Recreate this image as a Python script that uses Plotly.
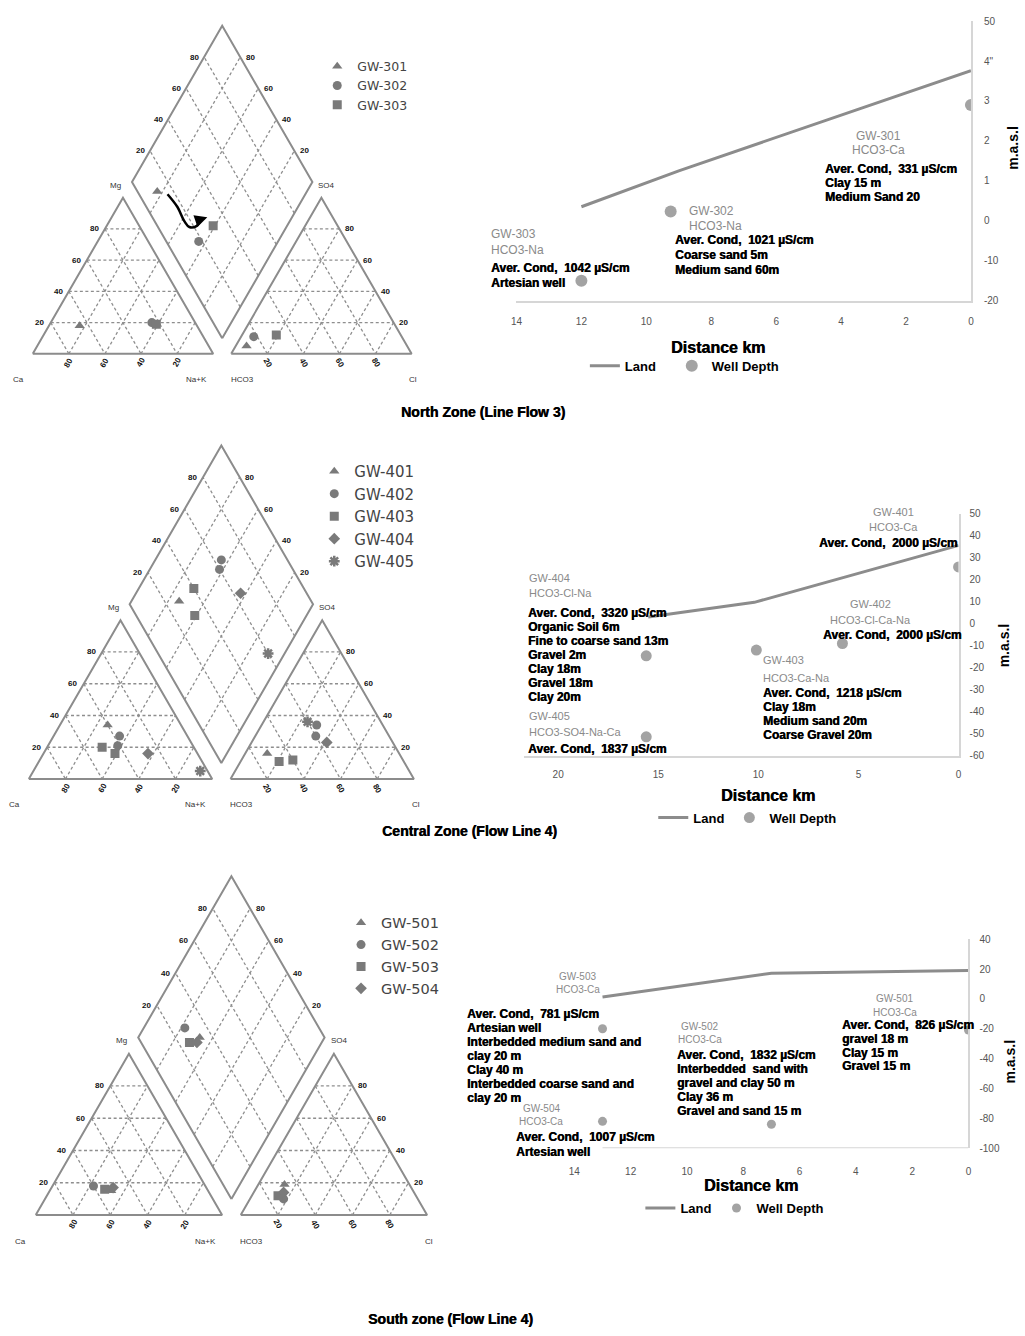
import math
import plotly.graph_objects as go

W, H = 1025, 1336
H3 = math.sqrt(3) / 2
GAP = 0.1

# ---------------- Piper data (meq %) ----------------
north_well = ["GW-301", "GW-302", "GW-303"]
north_ca = [65, 24, 22]
north_mg = [18, 20, 19]
north_na = [17, 56, 59]
north_hco3 = [89, 82, 69]
north_so4 = [5, 11, 12]
north_cl = [6, 7, 19]
# evolution path drawn in the diamond (Ca+Mg, SO4+Cl fractions)
north_path_s = [0.764, 0.668, 0.583, 0.538, 0.502, 0.497, 0.47]
north_path_a = [0.158, 0.172, 0.165, 0.174, 0.216, 0.265, 0.305]

central_well = ["GW-401", "GW-402", "GW-402", "GW-403", "GW-403", "GW-404", "GW-405"]
central_ca = [40, 41, 37, 50, 45, 27, 4]
central_mg = [34, 21, 27, 20, 16, 16, 5]
central_na = [26, 38, 36, 30, 39, 57, 91]
central_hco3 = [72, 40, 36, 60, 68, 36, 40]
central_so4 = [16, 27, 34, 12, 11, 23, 36]
central_cl = [12, 33, 30, 28, 21, 41, 24]

south_well = ["GW-501", "GW-502", "GW-503", "GW-504"]
south_ca = [52, 60, 55, 50]
south_mg = [15, 18, 16, 17]
south_na = [33, 22, 29, 33]
south_hco3 = [67, 72, 74, 70]
south_so4 = [19, 10, 12, 14]
south_cl = [14, 18, 14, 16]

piper_ticks = [20, 40, 60, 80]

# ---------------- cross-section data ----------------
north_land_km = [12, 9, 0]
north_land_m = [3.5, 12.5, 37.6]
north_wells = ["GW-301", "GW-302", "GW-303"]
north_well_km = [0, 9.25, 12]
north_well_m = [29, 2.3, -15]
north_types = ["HCO3-Ca", "HCO3-Na", "HCO3-Na"]
north_notes = [
    ["Aver. Cond,  331 µS/cm", "Clay 15 m", "Medium Sand 20"],
    ["Aver. Cond,  1021 µS/cm", "Coarse sand 5m", "Medium sand 60m"],
    ["Aver. Cond,  1042 µS/cm", "Artesian well"],
]
north_xticks = [14, 12, 10, 8, 6, 4, 2, 0]
north_yticks = [50, 40, 30, 20, 10, 0, -10, -20]
north_yticktext = ["50", "4\"", "3", "2", "1", "0", "-10", "-20"]

central_land_km = [15.5, 10.2, 0]
central_land_m = [3, 9.7, 35.6]
central_wells = ["GW-401", "GW-402", "GW-403", "GW-404", "GW-405"]
central_well_km = [0, 5.8, 10.1, 15.6, 15.6]
central_well_m = [25.8, -9, -12, -14.6, -51.4]
central_types = ["HCO3-Ca", "HCO3-Cl-Ca-Na", "HCO3-Ca-Na", "HCO3-Cl-Na", "HCO3-SO4-Na-Ca"]
central_notes = [
    ["Aver. Cond,  2000 µS/cm"],
    ["Aver. Cond,  2000 µS/cm"],
    ["Aver. Cond,  1218 µS/cm", "Clay 18m", "Medium sand 20m", "Coarse Gravel 20m"],
    ["Aver. Cond,  3320 µS/cm", "Organic Soil 6m", "Fine to coarse sand 13m",
     "Gravel 2m", "Clay 18m", "Gravel 18m", "Clay 20m"],
    ["Aver. Cond,  1837 µS/cm"],
]
central_xticks = [20, 15, 10, 5, 0]
central_yticks = [50, 40, 30, 20, 10, 0, -10, -20, -30, -40, -50, -60]

south_land_km = [13, 7, 0]
south_land_m = [1.3, 17.2, 19]
south_wells = ["GW-501", "GW-502", "GW-503", "GW-504"]
south_well_km = [0, 7, 13, 13]
south_well_m = [-20.8, -83.9, -20, -82]
south_types = ["HCO3-Ca", "HCO3-Ca", "HCO3-Ca", "HCO3-Ca"]
south_notes = [
    ["Aver. Cond,  826 µS/cm", "gravel 18 m", "Clay 15 m", "Gravel 15 m"],
    ["Aver. Cond,  1832 µS/cm", "Interbedded  sand with", "gravel and clay 50 m",
     "Clay 36 m", "Gravel and sand 15 m"],
    ["Aver. Cond,  781 µS/cm", "Artesian well", "Interbedded medium sand and",
     "clay 20 m", "Clay 40 m", "Interbedded coarse sand and", "clay 20 m"],
    ["Aver. Cond,  1007 µS/cm", "Artesian well"],
]
south_xticks = [14, 12, 10, 8, 6, 4, 2, 0]
south_yticks = [40, 20, 0, -20, -40, -60, -80, -100]

zone_titles = ["North Zone (Line Flow 3)", "Central Zone (Flow Line 4)", "South zone (Flow Line 4)"]

# ---------------- helpers ----------------
GREY = "#8c8c8c"
GRID = "#8e8e8e"
MARK = "#7a7a7a"
FONT = "Liberation Sans"
NOTE_SHADOW = "0.5px 0px 0px #000"
NBSP = "\u00a0"


def dom_x(p0, p1):
    return [p0 / W, p1 / W]


def dom_y(top, bottom):
    return [1 - bottom / H, 1 - top / H]


def px(xp, yp):
    return xp / W, 1 - yp / H


def cation_xy(ca, mg, na):
    t = ca + mg + na
    return (na + mg / 2) / t, mg / t * H3


def anion_xy(hco3, so4, cl):
    t = hco3 + so4 + cl
    return 1 + GAP + (cl + so4 / 2) / t, so4 / t * H3


def diamond_sa(s, a):
    return 1 + GAP / 2 - s / 2 + a / 2, GAP * H3 + H3 * (s + a)


def diamond_xy(ca, mg, na, hco3, so4, cl):
    return diamond_sa((ca + mg) / (ca + mg + na), (so4 + cl) / (hco3 + so4 + cl))


fig = go.Figure()
annotations = []
shapes = []
layout_axes = {}

SYMBOLS = ["triangle-up", "circle", "square", "diamond", "asterisk-open"]
XR = (-0.12, 2.28)
YR = (-0.2, 1.9)


def piper(idx, ox, oy, unit, wells, ca, mg, na, hco3, so4, cl, legend_name, legend_pos, legend_font):
    xa = "x" if idx == 1 else f"x{idx}"
    ya = "y" if idx == 1 else f"y{idx}"
    layout_axes["xaxis" if idx == 1 else f"xaxis{idx}"] = dict(
        domain=dom_x(ox + XR[0] * unit, ox + XR[1] * unit), range=list(XR),
        visible=False, anchor=ya, fixedrange=True)
    layout_axes["yaxis" if idx == 1 else f"yaxis{idx}"] = dict(
        domain=dom_y(oy - YR[1] * unit, oy - YR[0] * unit), range=list(YR),
        visible=False, anchor=xa, fixedrange=True)

    # dashed grid lines
    gx, gy = [], []
    for f in [t / 100 for t in piper_ticks]:
        for fn in (cation_xy, anion_xy):
            for p, q in (((1 - f, f, 0), (0, f, 1 - f)),
                         ((1 - f, 0, f), (0, 1 - f, f)),
                         ((f, 1 - f, 0), (f, 0, 1 - f))):
                a, b = fn(*p), fn(*q)
                gx += [a[0], b[0], None]
                gy += [a[1], b[1], None]
        for p, q in (((f, 0), (f, 1)), ((0, f), (1, f))):
            a, b = diamond_sa(*p), diamond_sa(*q)
            gx += [a[0], b[0], None]
            gy += [a[1], b[1], None]
    fig.add_trace(go.Scatter(x=gx, y=gy, mode="lines", xaxis=xa, yaxis=ya,
                             line=dict(color=GRID, width=1.3, dash="3px,2.5px"),
                             hoverinfo="skip", showlegend=False))

    # outlines
    bx, by = [], []
    for fn in (cation_xy, anion_xy):
        pts = [fn(1, 0, 0), fn(0, 1, 0), fn(0, 0, 1), fn(1, 0, 0)]
        bx += [p[0] for p in pts] + [None]
        by += [p[1] for p in pts] + [None]
    pts = [diamond_sa(0, 0), diamond_sa(1, 0), diamond_sa(1, 1), diamond_sa(0, 1), diamond_sa(0, 0)]
    bx += [p[0] for p in pts]
    by += [p[1] for p in pts]
    fig.add_trace(go.Scatter(x=bx, y=by, mode="lines", xaxis=xa, yaxis=ya,
                             line=dict(color=GREY, width=2), hoverinfo="skip", showlegend=False))

    # samples
    names = list(dict.fromkeys(wells))
    for k, name in enumerate(names):
        sx, sy = [], []
        for i, w in enumerate(wells):
            if w != name:
                continue
            for p in (cation_xy(ca[i], mg[i], na[i]), anion_xy(hco3[i], so4[i], cl[i]),
                      diamond_xy(ca[i], mg[i], na[i], hco3[i], so4[i], cl[i])):
                sx.append(p[0])
                sy.append(p[1])
        sym = SYMBOLS[k]
        marker = dict(color=MARK, size=9, symbol=sym)
        if sym == "asterisk-open":
            marker["line"] = dict(color=MARK, width=2.5)
        fig.add_trace(go.Scatter(x=sx, y=sy, mode="markers", name=name, xaxis=xa, yaxis=ya,
                                 marker=marker, legend=legend_name))
    lx, ly = px(*legend_pos)
    layout_axes[legend_name] = dict(
        x=lx, y=ly, xanchor="left", yanchor="top",
        bgcolor="rgba(255,255,255,0)", font=dict(family="DejaVu Sans", size=legend_font, color="#444"),
        tracegroupgap=0, itemwidth=30)

    # apex labels
    lab = dict(xref=xa, yref=ya, showarrow=False, xanchor="center", yanchor="middle",
               font=dict(family=FONT, size=8, color="#333"))
    for text, (tx, ty) in (("Ca", (-0.08, -0.14)), ("Na+K", (0.91, -0.14)), ("HCO3", (1.16, -0.14)),
                           ("Cl", (2.11, -0.14)), ("Mg", (0.46, 0.935)), ("SO4", (1.63, 0.935))):
        annotations.append(dict(lab, x=tx, y=ty, text=text))

    # scale labels
    tk = dict(xref=xa, yref=ya, showarrow=False, xanchor="center", yanchor="middle",
              font=dict(family=FONT, size=8, color="#111"))
    for t in piper_ticks:
        f = t / 100
        p = cation_xy(1 - f, f, 0)
        annotations.append(dict(tk, x=p[0] - 0.06, y=p[1], text=f"<b>{t}</b>"))
        p = cation_xy(f, 0, 1 - f)
        annotations.append(dict(tk, x=p[0], y=-0.05, text=f"<b>{t}</b>", textangle=-60))
        p = anion_xy(0, f, 1 - f)
        annotations.append(dict(tk, x=p[0] + 0.055, y=p[1], text=f"<b>{t}</b>"))
        p = anion_xy(1 - f, 0, f)
        annotations.append(dict(tk, x=p[0], y=-0.05, text=f"<b>{t}</b>", textangle=60))
        p = diamond_sa(1, f)
        annotations.append(dict(tk, x=p[0] - 0.055, y=p[1], text=f"<b>{t}</b>"))
        p = diamond_sa(f, 1)
        annotations.append(dict(tk, x=p[0] + 0.055, y=p[1], text=f"<b>{t}</b>"))
    return xa, ya


# ---------------- Piper diagrams ----------------
xa1, ya1 = piper(1, 27, 351, 182, north_well, north_ca, north_mg, north_na,
                 north_hco3, north_so4, north_cl, "legend", (314, 46), 12.5)
piper(2, 23, 780, 185, central_well, central_ca, central_mg, central_na,
      central_hco3, central_so4, central_cl, "legend2", (311, 453), 15)
piper(3, 30, 1220, 188, south_well, south_ca, south_mg, south_na,
      south_hco3, south_so4, south_cl, "legend3", (338, 909), 14.5)

# flow path arrow in the northern diamond
path = [diamond_sa(s, a) for s, a in zip(north_path_s, north_path_a)]
fig.add_trace(go.Scatter(x=[p[0] for p in path[:-1]], y=[p[1] for p in path[:-1]],
                         mode="lines", line=dict(color="black", width=2.5, shape="spline"),
                         xaxis=xa1, yaxis=ya1, hoverinfo="skip", showlegend=False))
annotations.append(dict(xref=xa1, yref=ya1, axref=xa1, ayref=ya1,
                        x=path[-1][0], y=path[-1][1], ax=path[-2][0], ay=path[-2][1],
                        showarrow=True, arrowhead=2, arrowsize=1, arrowwidth=2.5,
                        arrowcolor="black", text=""))


# ---------------- cross sections ----------------
def section(idx, x_px, y_px, xrange, yrange, land_km, land_m, well_km, well_m,
            xticks, yticks, yticktext, legend_name, legend_pos, land_pad, marker_size,
            x_standoff, y_standoff, draw_base=False):
    xa, ya = f"x{idx}", f"y{idx}"
    layout_axes[f"xaxis{idx}"] = dict(
        domain=dom_x(*x_px), range=list(xrange), anchor=ya, showgrid=False, zeroline=False,
        showline=not draw_base, linecolor="#d6d6d6", linewidth=2, ticks="",
        tickvals=xticks, tickfont=dict(family=FONT, size=10, color="#555"),
        ticklabelstandoff=x_standoff, fixedrange=True)
    layout_axes[f"yaxis{idx}"] = dict(
        domain=dom_y(*y_px), range=list(yrange), anchor=xa, side="right", showgrid=False,
        zeroline=False, showline=True, linecolor="#d6d6d6", linewidth=2, ticks="",
        tickvals=yticks, ticktext=yticktext if yticktext else [str(v) for v in yticks],
        tickfont=dict(family=FONT, size=10, color="#555"),
        ticklabelstandoff=y_standoff, fixedrange=True)
    if draw_base:
        shapes.append(dict(type="line", xref=xa, yref=ya, x0=max(land_km), x1=0,
                           y0=yrange[0], y1=yrange[0], line=dict(color="#d6d6d6", width=2)))
    fig.add_trace(go.Scatter(x=land_km, y=land_m, mode="lines", name="<b>Land</b>" + NBSP * land_pad,
                             line=dict(color=GREY, width=3), xaxis=xa, yaxis=ya,
                             legend=legend_name))
    fig.add_trace(go.Scatter(x=well_km, y=well_m, mode="markers", name="<b>Well Depth</b>",
                             marker=dict(color="#a3a3a3", size=marker_size), xaxis=xa, yaxis=ya,
                             legend=legend_name))
    lx, ly = px(*legend_pos)
    layout_axes[legend_name] = dict(
        orientation="h", x=lx, y=ly, xanchor="left", yanchor="middle",
        bgcolor="rgba(255,255,255,0)",
        font=dict(family=FONT, size=13, color="black"))

    # maps section coordinates to page pixels (used to place the well notes)
    def to_px(xv, yv):
        xp = x_px[0] + (xv - xrange[0]) / (xrange[1] - xrange[0]) * (x_px[1] - x_px[0])
        yp = y_px[1] - (yv - yrange[0]) / (yrange[1] - yrange[0]) * (y_px[1] - y_px[0])
        return xp, yp
    return to_px


def notes(to_px, names, types, note_lists, placement, gray_size):
    for name, typ, lines, (gx, gy, ganchor, gstep, nx, ny, nstep) in zip(names, types, note_lists, placement):
        gxp, gyp = to_px(gx, gy)
        for i, t in enumerate([name, typ]):
            x, y = px(gxp, gyp + i * gstep)
            annotations.append(dict(xref="paper", yref="paper", x=x, y=y, xanchor=ganchor,
                                    yanchor="middle", showarrow=False, text=t,
                                    font=dict(family=FONT, size=gray_size, color="#8a8a8a")))
        nxp, nyp = to_px(nx, ny)
        for i, t in enumerate(lines):
            x, y = px(nxp, nyp + i * nstep)
            annotations.append(dict(xref="paper", yref="paper", x=x, y=y, xanchor="left",
                                    yanchor="middle", showarrow=False, text=f"<b>{t}</b>",
                                    font=dict(family=FONT, size=12, color="black",
                                              shadow=NOTE_SHADOW)))


north_px = section(4, (515, 973.5), (15.2, 297.3), (14, 0), (-20, 50), north_land_km, north_land_m,
                   north_well_km, north_well_m, north_xticks, north_yticks, north_yticktext,
                   "legend4", (584, 363), 3, 12, 10, 9)
notes(north_px, north_wells, north_types, north_notes, [
    (2.85, 21.1, "center", 14, 4.55, 13.0, 14.2),
    (8.74, 2.48, "left", 15.3, 9.18, -4.79, 15.2),
    (14.84, -3.3, "left", 16.7, 14.84, -11.74, 15),
], 12)

central_px = section(5, (522.7, 961), (512.3, 756.5), (21.7, 0), (-60, 50), central_land_km, central_land_m,
                     central_well_km, central_well_m, central_xticks, central_yticks, None,
                     "legend5", (653, 819), 0, 11, 8, 7)
notes(central_px, central_wells, central_types, central_notes, [
    (3.27, 50.6, "center", 15, 7.06, 36.8, 14),
    (4.4, 9.0, "center", 16.7, 6.85, -4.95, 14),
    (9.87, -16.5, "left", 17.7, 9.87, -31.3, 14.3),
    (21.58, 21.0, "left", 16, 21.63, 4.8, 14.1),
    (21.58, -42.1, "left", 16, 21.63, -57.1, 14),
], 11)

south_px = section(6, (545, 971), (941.6, 1152.6), (15, 0), (-100, 40), south_land_km, south_land_m,
                   south_well_km, south_well_m, south_xticks, south_yticks, None,
                   "legend6", (640, 1213), 0, 9, 16, 7, draw_base=True)
notes(south_px, south_wells, south_types, south_notes, [
    (2.62, 0.13, "center", 14.3, 4.55, -17.5, 13.9),
    (9.54, -18.2, "center", 13.4, 10.42, -37.4, 14.2),
    (13.88, 15.0, "center", 13.4, 17.9, -10.2, 14.07),
    (15.18, -73.2, "center", 13.4, 16.14, -92.7, 15),
], 10)

# axis titles and zone captions
centered = dict(xref="paper", yref="paper", showarrow=False, xanchor="center", yanchor="middle")
for (cx, cy) in ((718, 345), (769, 797), (752, 1190)):
    x, y = px(cx, cy)
    annotations.append(dict(centered, x=x, y=y, text="<b>Distance km</b>",
                            font=dict(family=FONT, size=16, color="black", shadow=NOTE_SHADOW)))
for (cx, cy) in ((1016, 143), (1007, 645), (1013, 1065)):
    x, y = px(cx, cy)
    annotations.append(dict(centered, x=x, y=y, textangle=-90, text="<b>m.a.s.l</b>",
                            font=dict(family=FONT, size=14, color="black")))
for title, (cx, cy) in zip(zone_titles, ((481, 410), (468, 832), (448, 1325))):
    x, y = px(cx, cy)
    annotations.append(dict(centered, x=x, y=y, text=f"<b>{title}</b>",
                            font=dict(family=FONT, size=14, color="black", shadow=NOTE_SHADOW)))

fig.update_layout(
    width=W, height=H, margin=dict(l=0, r=0, t=0, b=0),
    paper_bgcolor="white", plot_bgcolor="white",
    annotations=annotations, shapes=shapes, showlegend=True,
    **layout_axes,
)

fig.write_html("out.html")
